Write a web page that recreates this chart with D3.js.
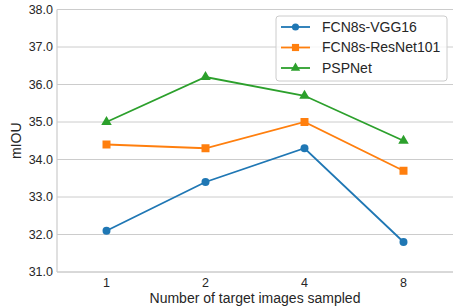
<!DOCTYPE html>
<html>
<head>
<meta charset="utf-8">
<script src="https://cdn.jsdelivr.net/npm/d3@7.9.0/dist/d3.min.js"></script>
<style>
  body { margin: 0; background: #fff; }
  svg { display: block; font-family: "Liberation Sans", Arial, sans-serif; }
</style>
</head>
<body>
<svg id="chart" width="453" height="306"></svg>
<script>
const categories = ['1', '2', '4', '8'];
const vgg16 = [32.1, 33.4, 34.3, 31.8];
const resnet101 = [34.4, 34.3, 35.0, 33.7];
const pspnet = [35.0, 36.2, 35.7, 34.5];
const yTicks = [31, 32, 33, 34, 35, 36, 37, 38];

const series = [
  { name: 'FCN8s-VGG16', values: vgg16, color: '#1f77b4', marker: d3.symbolCircle, size: 50 },
  { name: 'FCN8s-ResNet101', values: resnet101, color: '#ff7f0e', marker: d3.symbolSquare, size: 64 },
  { name: 'PSPNet', values: pspnet, color: '#2ca02c', marker: d3.symbolTriangle, size: 48 }
];

const margin = { top: 9.5, right: 0, bottom: 34, left: 57 };
const width = 453, height = 306;
const svg = d3.select('#chart');

const x = d3.scalePoint().domain(categories).range([margin.left, width - margin.right]).padding(0.5);
const y = d3.scaleLinear().domain([31, 38]).range([height - margin.bottom, margin.top]);

// gridlines
svg.append('g')
  .selectAll('line')
  .data(yTicks)
  .join('line')
  .attr('x1', margin.left)
  .attr('x2', width - margin.right)
  .attr('y1', d => y(d))
  .attr('y2', d => y(d))
  .attr('stroke', '#cccccc')
  .attr('stroke-width', 1);

// spines
svg.append('line')
  .attr('x1', margin.left).attr('x2', margin.left)
  .attr('y1', margin.top).attr('y2', height - margin.bottom)
  .attr('stroke', '#cccccc').attr('stroke-width', 1.2);
svg.append('line')
  .attr('x1', margin.left).attr('x2', width - margin.right)
  .attr('y1', height - margin.bottom).attr('y2', height - margin.bottom)
  .attr('stroke', '#cccccc').attr('stroke-width', 1.2);

// y tick labels
svg.append('g')
  .selectAll('text')
  .data(yTicks)
  .join('text')
  .attr('x', margin.left - 4)
  .attr('y', d => y(d))
  .attr('dy', '0.35em')
  .attr('text-anchor', 'end')
  .attr('font-size', 12.5)
  .attr('fill', '#262626')
  .text(d => d.toFixed(1));

// x tick labels
svg.append('g')
  .selectAll('text')
  .data(categories)
  .join('text')
  .attr('x', d => x(d))
  .attr('y', height - margin.bottom + 15)
  .attr('text-anchor', 'middle')
  .attr('font-size', 12.5)
  .attr('fill', '#262626')
  .text(d => d);

// axis titles
svg.append('text')
  .attr('x', (margin.left + width - margin.right) / 2)
  .attr('y', 303)
  .attr('text-anchor', 'middle')
  .attr('font-size', 14)
  .attr('fill', '#262626')
  .text('Number of target images sampled');

svg.append('text')
  .attr('transform', `translate(21, ${(margin.top + height - margin.bottom) / 2}) rotate(-90)`)
  .attr('text-anchor', 'middle')
  .attr('font-size', 14)
  .attr('fill', '#262626')
  .text('mIOU');

// lines + markers
const line = d3.line()
  .x((d, i) => x(categories[i]))
  .y(d => y(d));

series.forEach(s => {
  svg.append('path')
    .attr('d', line(s.values))
    .attr('fill', 'none')
    .attr('stroke', s.color)
    .attr('stroke-width', 1.8);
  svg.append('g')
    .selectAll('path')
    .data(s.values)
    .join('path')
    .attr('transform', (d, i) => `translate(${x(categories[i])},${y(d)})`)
    .attr('d', d3.symbol().type(s.marker).size(s.size))
    .attr('fill', s.color);
});

// legend
const legend = svg.append('g').attr('transform', 'translate(276,16)');
legend.append('rect')
  .attr('width', 171)
  .attr('height', 65)
  .attr('rx', 3)
  .attr('fill', '#fff')
  .attr('fill-opacity', 0.8)
  .attr('stroke', '#cccccc');

series.forEach((s, i) => {
  const row = legend.append('g').attr('transform', `translate(0, ${11 + i * 20.5})`);
  row.append('line')
    .attr('x1', 5).attr('x2', 34)
    .attr('stroke', s.color).attr('stroke-width', 1.8);
  row.append('path')
    .attr('transform', 'translate(19.5,0)')
    .attr('d', d3.symbol().type(s.marker).size(s.size * 0.8))
    .attr('fill', s.color);
  row.append('text')
    .attr('x', 46)
    .attr('dy', '0.35em')
    .attr('font-size', 14)
    .attr('fill', '#262626')
    .text(s.name);
});
</script>
</body>
</html>
